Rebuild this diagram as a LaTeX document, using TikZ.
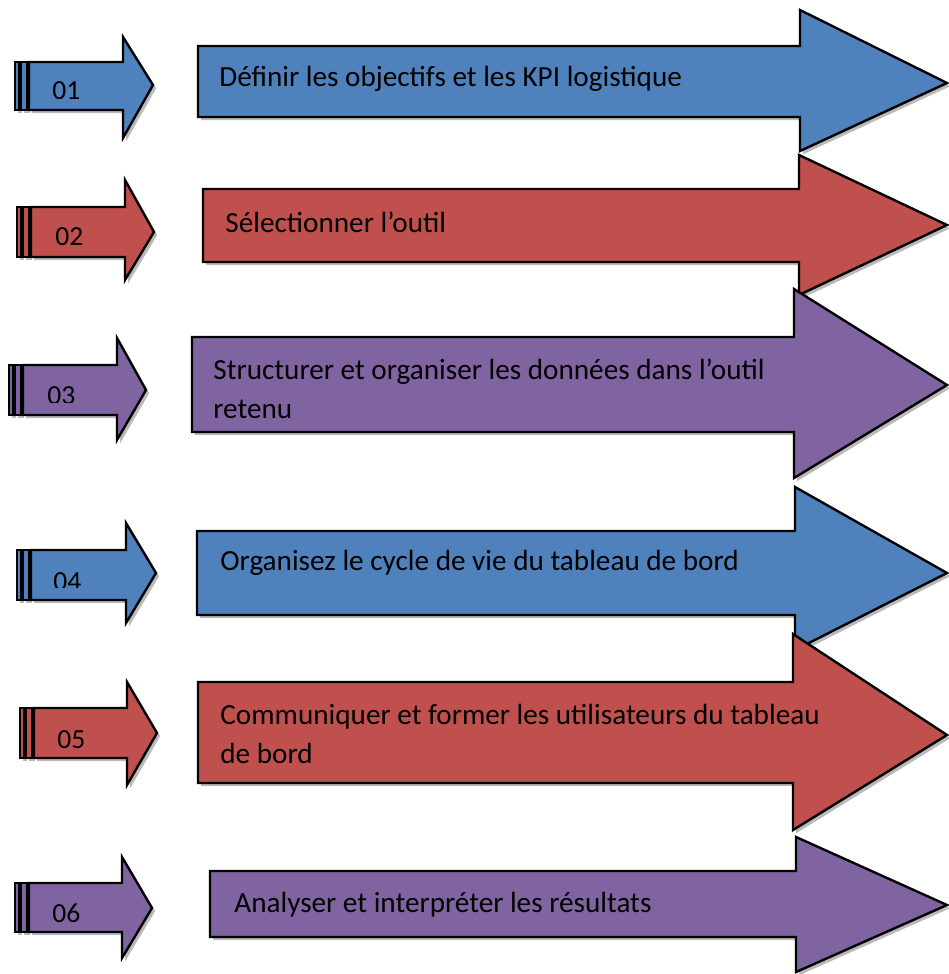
\documentclass[tikz,border=0pt]{standalone}
\usepackage{fontspec}
\setmainfont{Carlito}
\usetikzlibrary{shadows}

\definecolor{stepblue}{HTML}{4F81BD}
\definecolor{stepred}{HTML}{C0504D}
\definecolor{steppurple}{HTML}{8064A2}

\tikzset{
  arrowshape/.style={draw=black, line width=1.2pt, line join=miter,
    drop shadow={shadow xshift=1.6pt, shadow yshift=-1.6pt, opacity=0.45, fill=black!60}},
  steplabel/.style={anchor=base west, inner sep=0pt, text=black,
    font=\fontsize{14.6}{19.5}\selectfont, align=left},
  numlabel/.style={anchor=base west, inner sep=0pt, text=black,
    font=\fontsize{13.8}{16}\selectfont},
}

% large arrow: colour, left, body top, body bottom, head x, head top, head bottom, tip x, tip y
\newcommand{\largearrow}[9]{%
  \filldraw[arrowshape, fill=#1] (#2,#3) -- (#5,#3) -- (#5,#6) -- (#8,#9)
    -- (#5,#7) -- (#5,#4) -- (#2,#4) -- cycle;}

% striped arrow: colour, left, body top, body bottom, head x, head top, head bottom, tip x, tip y
\newcommand{\stripedarrow}[9]{%
  \filldraw[arrowshape, fill=#1] (#2,#3) rectangle (#2+4,#4);
  \filldraw[arrowshape, fill=#1] (#2+6,#3) rectangle (#2+12,#4);
  \filldraw[arrowshape, fill=#1] (#2+14,#3) -- (#5,#3) -- (#5,#6) -- (#8,#9)
    -- (#5,#7) -- (#5,#4) -- (#2+14,#4) -- cycle;}

\begin{document}
\begin{tikzpicture}[x=0.5pt, y=-0.5pt]
\useasboundingbox (0,0) rectangle (948,974);

% step 1
\stripedarrow{stepblue}{15}{62}{110}{123}{37}{138}{153}{85}
\begin{scope}
  \clip (0,0) rectangle (948,99);
  \node[numlabel] (n1) at (52,100) {01};
\end{scope}
\largearrow{stepblue}{198}{46}{117}{800}{10}{151}{947}{83}
\node[steplabel] (t1) at (219,87) {Définir les objectifs et les KPI logistique};

% step 2
\stripedarrow{stepred}{17}{207}{257}{125}{180}{280}{154}{232}
\node[numlabel] (n2) at (55,245) {02};
\largearrow{stepred}{203}{189}{262}{799}{155}{295}{947}{225}
\node[steplabel] (t2) at (225,232) {Sélectionner l’outil};

% step 3 (two lines: anchored on the last baseline)
\stripedarrow{steppurple}{9}{365}{415}{117}{338}{440}{146}{390}
\begin{scope}
  \clip (0,0) rectangle (948,402);
  \node[numlabel] (n3) at (47,404) {03};
\end{scope}
\largearrow{steppurple}{192}{337}{432}{794}{289}{478}{947}{385}
\node[steplabel] (t3) at (213,418) {Structurer et organiser les données dans l’outil\\retenu};

% step 4
\stripedarrow{stepblue}{17}{550}{600}{126}{523}{623}{156}{573}
\begin{scope}
  \clip (0,0) rectangle (948,587);
  \node[numlabel] (n4) at (53,590) {04};
\end{scope}
\largearrow{stepblue}{197}{531}{615}{795}{487}{650}{947}{573}
\node[steplabel] (t4) at (220,570) {Organisez le cycle de vie du tableau de bord};

% step 5 (two lines: anchored on the last baseline)
\stripedarrow{stepred}{20}{708}{758}{127}{682}{785}{157}{733}
\node[numlabel] (n5) at (57,748) {05};
\largearrow{stepred}{198}{682}{783}{793}{634}{830}{947}{735}
\node[steplabel] (t5) at (220,763) {Communiquer et former les utilisateurs du tableau\\de bord};

% step 6
\stripedarrow{steppurple}{15}{883}{932}{122}{857}{958}{152}{908}
\node[numlabel] (n6) at (52,922) {06};
\largearrow{steppurple}{210}{871}{937}{796}{837}{972}{947}{905}
\node[steplabel] (t6) at (234,912) {Analyser et interpréter les résultats};

\end{tikzpicture}
\end{document}
